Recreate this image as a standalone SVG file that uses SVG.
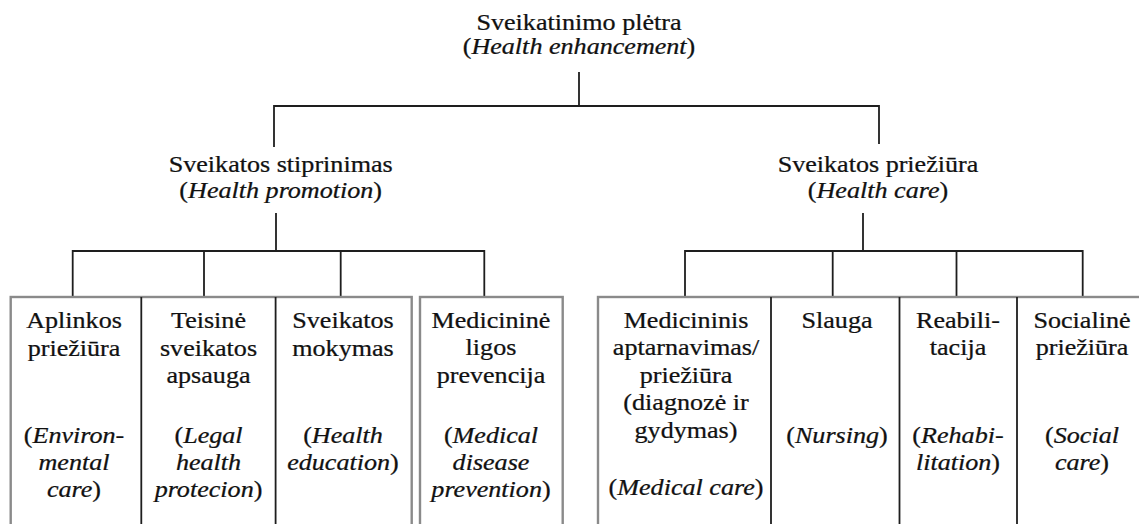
<svg xmlns="http://www.w3.org/2000/svg" width="1139" height="524" viewBox="0 0 1139 524">
<style>
.t{font-family:"Liberation Serif","Times New Roman",serif;font-size:23px;text-anchor:middle;fill:#111;stroke:#111;stroke-width:0.25}
.i{font-style:italic}
.c{fill:none;stroke:#1e1e1e;stroke-width:1.8}
.box{fill:#fff;stroke:#8a8a8a;stroke-width:2.4}
.div{stroke:#1e1e1e;stroke-width:1.8}
</style>
<rect width="1139" height="524" fill="#fff"/>
<g id="connectors">
<path class="c" d="M579,72V106M274,147V106H879V144"/>
<path class="c" d="M276,213V251M72.7,297V251H484.3V297M204,251V297M340.7,251V297"/>
<path class="c" d="M863,213V251M685,297V251H1082.7V297M832.7,251V297M956.5,251V297"/>
</g>
<g id="box-frames">
<rect class="box" x="10.7" y="297" width="401" height="260"/>
<rect class="box" x="420" y="297" width="142.7" height="260"/>
<rect class="box" x="598" y="297" width="560" height="260"/>
<path class="div" d="M141.3,297V530M275.6,297V530M771,297V530M899.5,297V530M1017,297V530"/>
</g>
<g id="n-root" transform="translate(579,0) scale(1.135,1)">
<text class="t" x="0" y="30">Sveikatinimo plėtra</text>
<text class="t" x="0" y="54">(<tspan class="i">Health enhancement</tspan>)</text>
</g>
<g id="n-promotion" transform="translate(280.7,0) scale(1.135,1)">
<text class="t" x="0" y="172">Sveikatos stiprinimas</text>
<text class="t" x="0" y="198">(<tspan class="i">Health promotion</tspan>)</text>
</g>
<g id="n-care" transform="translate(878,0) scale(1.135,1)">
<text class="t" x="0" y="172">Sveikatos priežiūra</text>
<text class="t" x="0" y="198">(<tspan class="i">Health care</tspan>)</text>
</g>
<g id="n-env" transform="translate(74,0) scale(1.135,1)">
<text class="t" x="0" y="328">Aplinkos</text>
<text class="t" x="0" y="356">priežiūra</text>
<text class="t" x="0" y="443">(<tspan class="i">Environ-</tspan></text>
<text class="t i" x="0" y="470">mental</text>
<text class="t" x="0" y="497"><tspan class="i">care</tspan>)</text>
</g>
<g id="n-legal" transform="translate(208.5,0) scale(1.135,1)">
<text class="t" x="0" y="328">Teisinė</text>
<text class="t" x="0" y="356">sveikatos</text>
<text class="t" x="0" y="383">apsauga</text>
<text class="t" x="0" y="443">(<tspan class="i">Legal</tspan></text>
<text class="t i" x="0" y="470">health</text>
<text class="t" x="0" y="497"><tspan class="i">protecion</tspan>)</text>
</g>
<g id="n-edu" transform="translate(343,0) scale(1.135,1)">
<text class="t" x="0" y="328">Sveikatos</text>
<text class="t" x="0" y="356">mokymas</text>
<text class="t" x="0" y="443">(<tspan class="i">Health</tspan></text>
<text class="t" x="0" y="470"><tspan class="i">education</tspan>)</text>
</g>
<g id="n-prev" transform="translate(491,0) scale(1.135,1)">
<text class="t" x="0" y="328">Medicininė</text>
<text class="t" x="0" y="355">ligos</text>
<text class="t" x="0" y="383">prevencija</text>
<text class="t" x="0" y="443">(<tspan class="i">Medical</tspan></text>
<text class="t i" x="0" y="470">disease</text>
<text class="t" x="0" y="497"><tspan class="i">prevention</tspan>)</text>
</g>
<g id="n-medcare" transform="translate(686,0) scale(1.135,1)">
<text class="t" x="0" y="328">Medicininis</text>
<text class="t" x="0" y="355">aptarnavimas/</text>
<text class="t" x="0" y="383">priežiūra</text>
<text class="t" x="0" y="410">(diagnozė ir</text>
<text class="t" x="0" y="438">gydymas)</text>
<text class="t" x="0" y="495">(<tspan class="i">Medical care</tspan>)</text>
</g>
<g id="n-nursing" transform="translate(837,0) scale(1.135,1)">
<text class="t" x="0" y="328">Slauga</text>
<text class="t" x="0" y="443">(<tspan class="i">Nursing</tspan>)</text>
</g>
<g id="n-rehab" transform="translate(958,0) scale(1.135,1)">
<text class="t" x="0" y="328">Reabili-</text>
<text class="t" x="0" y="355">tacija</text>
<text class="t" x="0" y="443">(<tspan class="i">Rehabi-</tspan></text>
<text class="t" x="0" y="470"><tspan class="i">litation</tspan>)</text>
</g>
<g id="n-social" transform="translate(1082,0) scale(1.135,1)">
<text class="t" x="0" y="328">Socialinė</text>
<text class="t" x="0" y="355">priežiūra</text>
<text class="t" x="0" y="443">(<tspan class="i">Social</tspan></text>
<text class="t" x="0" y="470"><tspan class="i">care</tspan>)</text>
</g>
</svg>
